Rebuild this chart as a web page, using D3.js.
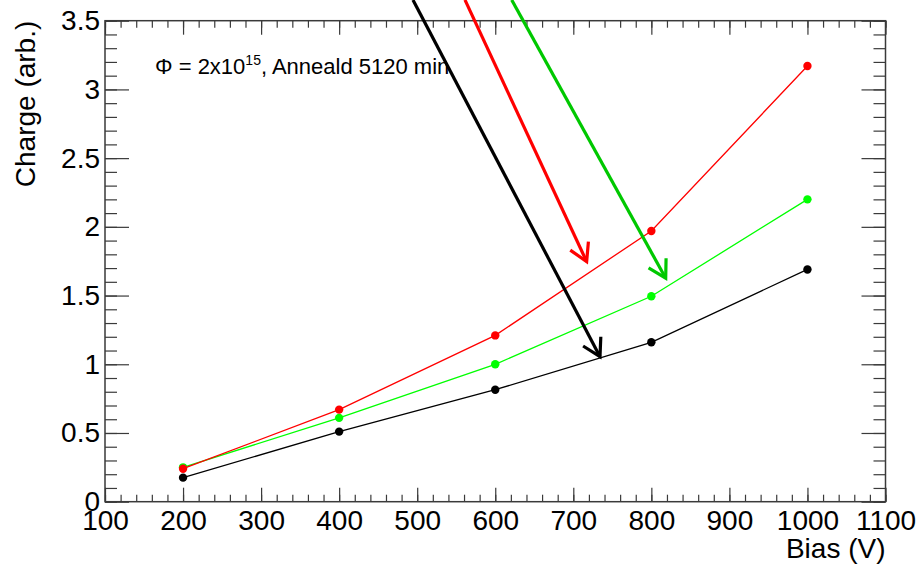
<!DOCTYPE html>
<html>
<head>
<meta charset="utf-8">
<script src="https://cdn.jsdelivr.net/npm/d3@7"></script>
<style>
  body { margin: 0; background: #fff; }
  svg { display: block; font-family: "Liberation Sans", Arial, sans-serif; }
</style>
</head>
<body>
<div id="chart"></div>
<script>
// bias points (V) and charge per series
const biasV = [200, 400, 600, 800, 1000];
const chargeRed = [0.24, 0.67, 1.21, 1.97, 3.17];
const chargeGreen = [0.25, 0.61, 1.0, 1.495, 2.2];
const chargeBlack = [0.175, 0.51, 0.815, 1.16, 1.69];

const xTicks = [100, 200, 300, 400, 500, 600, 700, 800, 900, 1000, 1100];
const yTicks = [0, 0.5, 1, 1.5, 2, 2.5, 3, 3.5];

// arrow annotations (data coords): start x, start y, end x, end y
const arrowBlack = [494.6, 3.651, 734.2, 1.055];
const arrowRed = [561.2, 3.651, 717.1, 1.747];
const arrowGreen = [621.1, 3.651, 818.4, 1.626];

const W = 920, H = 566;
const frame = { left: 105, right: 885.5, top: 20.7, bottom: 501.7 };

const svg = d3.select('#chart').append('svg')
  .attr('width', W)
  .attr('height', H);

svg.append('rect').attr('width', W).attr('height', H).attr('fill', '#fff');

const x = d3.scaleLinear().domain([100, 1100]).range([frame.left, frame.right]);
const y = d3.scaleLinear().domain([0, 3.5]).range([frame.bottom, frame.top]);

const axisColor = '#3a3a3a';
const minorX = d3.range(100, 1101, 20);
const minorY = d3.range(0, 3.51, 0.1);

function styleAxis(g) {
  g.select('.domain').remove();
  g.selectAll('line').attr('stroke', axisColor).attr('stroke-width', 1.2);
  g.selectAll('text').attr('fill', '#000').attr('font-size', 28)
    .attr('font-family', '"Liberation Sans", Arial, sans-serif');
}

// bottom axis
svg.append('g').attr('transform', `translate(0,${frame.bottom})`)
  .call(d3.axisBottom(x).tickValues(minorX).tickSize(-7).tickFormat(''))
  .call(styleAxis);
svg.append('g').attr('transform', `translate(0,${frame.bottom})`)
  .call(d3.axisBottom(x).tickValues(xTicks).tickSize(-14).tickPadding(8).tickFormat(d3.format('d')))
  .call(styleAxis);

// top axis
svg.append('g').attr('transform', `translate(0,${frame.top})`)
  .call(d3.axisTop(x).tickValues(minorX).tickSize(-7).tickFormat(''))
  .call(styleAxis);
svg.append('g').attr('transform', `translate(0,${frame.top})`)
  .call(d3.axisTop(x).tickValues(xTicks).tickSize(-14).tickFormat(''))
  .call(styleAxis);

// left axis
svg.append('g').attr('transform', `translate(${frame.left},0)`)
  .call(d3.axisLeft(y).tickValues(minorY).tickSize(-12).tickFormat(''))
  .call(styleAxis);
svg.append('g').attr('transform', `translate(${frame.left},0)`)
  .call(d3.axisLeft(y).tickValues(yTicks).tickSize(-24).tickPadding(5).tickFormat(d3.format('')))
  .call(styleAxis);

// right axis
svg.append('g').attr('transform', `translate(${frame.right},0)`)
  .call(d3.axisRight(y).tickValues(minorY).tickSize(-12).tickFormat(''))
  .call(styleAxis);
svg.append('g').attr('transform', `translate(${frame.right},0)`)
  .call(d3.axisRight(y).tickValues(yTicks).tickSize(-24).tickFormat(''))
  .call(styleAxis);

// frame
svg.append('rect')
  .attr('x', frame.left).attr('y', frame.top)
  .attr('width', frame.right - frame.left).attr('height', frame.bottom - frame.top)
  .attr('fill', 'none').attr('stroke', axisColor).attr('stroke-width', 1.5);

// axis titles
svg.append('text')
  .attr('x', frame.right).attr('y', 558)
  .attr('text-anchor', 'end').attr('font-size', 28)
  .text('Bias (V)');

svg.append('text')
  .attr('transform', `translate(35,${frame.top}) rotate(-90)`)
  .attr('text-anchor', 'end').attr('font-size', 28)
  .text('Charge (arb.)');

// annotation
const label = svg.append('text')
  .attr('x', 155).attr('y', 74).attr('font-size', 22);
label.append('tspan').text('\u03A6 = 2x10');
label.append('tspan').attr('font-size', 14).attr('dy', -9).text('15');
label.append('tspan').attr('dy', 9).text(', Anneald 5120 min');

// graphs
const series = [
  { vals: chargeBlack, color: '#000000' },
  { vals: chargeGreen, color: '#00ff00' },
  { vals: chargeRed, color: '#ff0000' }
];

const line = d3.line().x(d => x(d[0])).y(d => y(d[1]));

series.forEach(s => {
  const pts = biasV.map((b, i) => [b, s.vals[i]]);
  svg.append('path')
    .datum(pts)
    .attr('d', line)
    .attr('fill', 'none')
    .attr('stroke', s.color)
    .attr('stroke-width', 1.3);
  svg.selectAll(null)
    .data(pts)
    .enter()
    .append('circle')
    .attr('cx', d => x(d[0]))
    .attr('cy', d => y(d[1]))
    .attr('r', 4.2)
    .attr('fill', s.color);
});

// arrows
function drawArrow(a, color) {
  const x1 = x(a[0]), y1 = y(a[1]), x2 = x(a[2]), y2 = y(a[3]);
  const ang = Math.atan2(y2 - y1, x2 - x1);
  const len = 20, spread = Math.PI / 6;
  const g = svg.append('g')
    .attr('stroke', color).attr('stroke-width', 3.2)
    .attr('fill', 'none').attr('stroke-linecap', 'butt');
  g.append('line').attr('x1', x1).attr('y1', y1).attr('x2', x2).attr('y2', y2);
  const p1 = [x2 - len * Math.cos(ang - spread), y2 - len * Math.sin(ang - spread)];
  const p2 = [x2 - len * Math.cos(ang + spread), y2 - len * Math.sin(ang + spread)];
  g.append('path')
    .attr('d', `M${p1[0]},${p1[1]}L${x2},${y2}L${p2[0]},${p2[1]}`)
    .attr('stroke-linejoin', 'miter');
}

drawArrow(arrowRed, '#ff0000');
drawArrow(arrowGreen, '#00c800');
drawArrow(arrowBlack, '#000000');
</script>
</body>
</html>
